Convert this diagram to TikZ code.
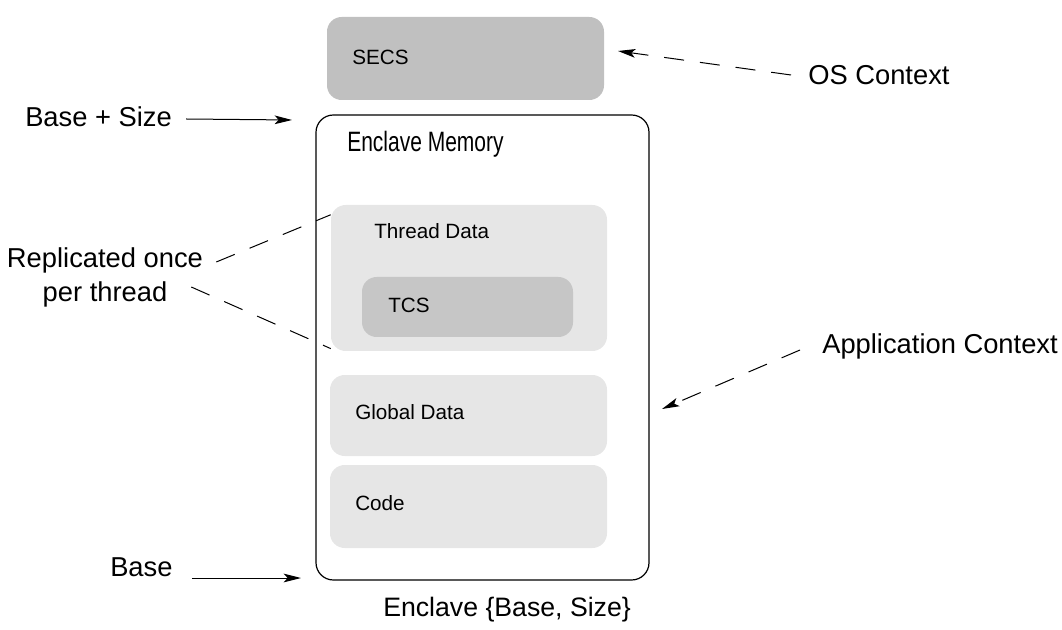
\documentclass[tikz,border=0pt]{standalone}
\usepackage{fontspec}
\setmainfont{Liberation Sans}
\newfontfamily\narrowfont[FakeStretch=0.75]{Liberation Sans}
\usetikzlibrary{arrows.meta,positioning}
\definecolor{secsgray}{HTML}{C0C0C0}
\definecolor{tcsgray}{HTML}{C6C6C6}
\definecolor{datagray}{HTML}{E6E6E6}

\begin{document}
\begin{tikzpicture}[x=0.75pt, y=-0.75pt, >={Stealth[length=13pt,width=6.5pt,inset=3pt]},
    region/.style={rectangle, rounded corners=11pt, inner sep=0pt, draw=none},
    biglabel/.style={inner sep=0pt, font=\fontsize{20.5}{25.5}\selectfont},
    smalllabel/.style={inner sep=0pt, anchor=west, font=\fontsize{15.5}{18}\selectfont, text height=1.08em, text depth=0pt},
    pointer/.style={->, line width=0.75pt},
    hint/.style={line width=0.75pt, dash pattern=on 15pt off 12pt}]
    \useasboundingbox (0,0) rectangle (1062,630);

    % Regions {secs, enclave, thread, tcs, global, code}
    \node [region, fill=secsgray, minimum width=207.75pt, minimum height=62.25pt]  (secs)    at (465.5,58.5)  {};
    \node [region, draw=black, line width=0.9pt, rounded corners=13pt,
           minimum width=249.75pt, minimum height=348.75pt]                         (enclave) at (482.5,347.5) {};
    \node [region, fill=datagray, minimum width=207pt, minimum height=109.5pt]     (thread)  at (469,278)     {};
    \node [region, fill=tcsgray, minimum width=158.25pt, minimum height=45pt]      (tcs)     at (467.5,307)   {};
    \node [region, fill=datagray, minimum width=207.75pt, minimum height=60.75pt]  (global)  at (468.5,415.5) {};
    \node [region, fill=datagray, minimum width=207.75pt, minimum height=62.25pt]  (code)    at (468.5,506.5) {};

    % Region labels
    \node [smalllabel] (secslbl)   at (352,57)  {SECS};
    \node [smalllabel, font=\narrowfont\fontsize{21}{24}\selectfont] (enclavelbl) at (347,144) {Enclave Memory};
    \node [smalllabel] (threadlbl) at (374,231) {Thread Data};
    \node [smalllabel] (tcslbl)    at (388,305) {TCS};
    \node [smalllabel] (globallbl) at (355,412) {Global Data};
    \node [smalllabel] (codelbl)   at (355,503) {Code};

    % Outside labels
    \node [biglabel, anchor=west, text height=1.2em, text depth=0pt] (basesize) at (25,119)  {Base + Size};
    \node [biglabel, anchor=west, text height=1.2em, text depth=0pt] (base)     at (110,568) {Base};
    \node [biglabel, anchor=west, text height=1.2em, text depth=0pt] (oscontext)  at (808,77)  {OS Context};
    \node [biglabel, anchor=west, text height=1.2em, text depth=0pt] (appcontext) at (822,346) {Application Context};
    \node [biglabel, anchor=west, text height=1.2em, text depth=0pt, font=\fontsize{20}{24}\selectfont] (bounds) at (383,608) {Enclave \{Base, Size\}};
    \node [biglabel, align=center] (replicated) at (105,277) {Replicated once\\per thread};

    % Arrow tips
    \coordinate (basesizetip) at (292,120);
    \coordinate (basetip)     at (301,578);
    \coordinate (ostip)       at (618,51);
    \coordinate (apptip)      at (662,409);

    % Paths
    \path [pointer] ([xshift=10.5pt]basesize.east) edge (basesizetip);
    \path [pointer] ([shift={(19,10)}]base.east)   edge (basetip);
    \path [pointer, hint] ([shift={(-17,-2)}]oscontext.west)  edge (ostip);
    \path [pointer, hint] ([shift={(-22,4)}]appcontext.west)  edge (apptip);
    \path [hint] ([shift={(13,-15)}]replicated.east) edge ([yshift=-7.5pt]thread.north west);
    \path [hint] ([shift={(-12,10)}]replicated.east) edge ([yshift=2pt]thread.south west);
\end{tikzpicture}
\end{document}
